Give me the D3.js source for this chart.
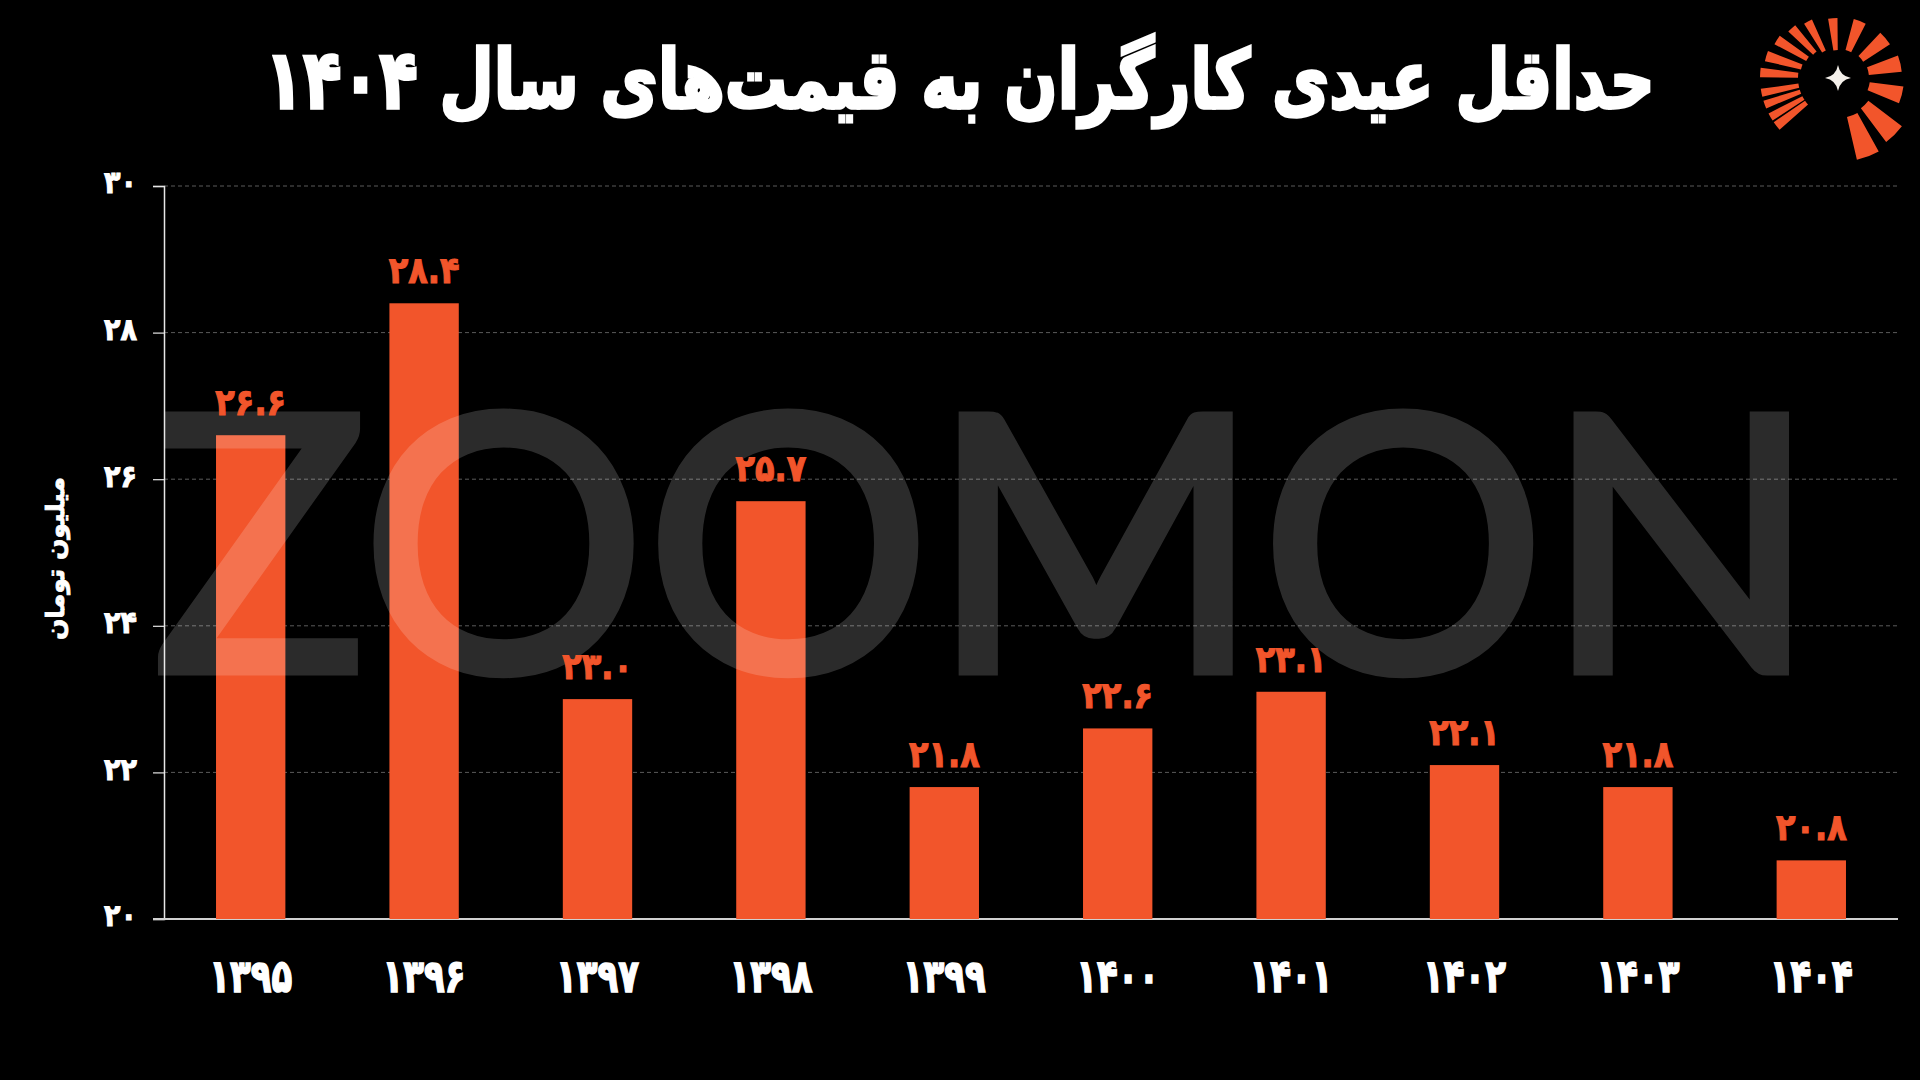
<!DOCTYPE html>
<html>
<head>
<meta charset="utf-8">
<script src="https://cdn.jsdelivr.net/npm/d3@7"></script>
<style>
  html, body { margin: 0; padding: 0; background: #000; }
  svg { display: block; }
  text { font-family: "DejaVu Sans", sans-serif; }
</style>
</head>
<body>
<svg id="chart"></svg>
<script>
var width = 1920;
var height = 1080;

// data
var years = ["1395", "1396", "1397", "1398", "1399", "1400", "1401", "1402", "1403", "1404"];
var values = [26.6, 28.4, 23.0, 25.7, 21.8, 22.6, 23.1, 22.1, 21.8, 20.8];
var yTicks = [20, 22, 24, 26, 28, 30];

var title = "حداقل عیدی کارگران به قیمت‌های سال ۱۴۰۴";
var yTitle = "میلیون تومان";
var watermark = "ZOOMON";

var orange = "#f2552b";

// latin digits -> persian digits
function fa(s) {
  return String(s).replace(/[0-9]/g, function(d) { return "۰۱۲۳۴۵۶۷۸۹"[+d]; });
}

var svg = d3.select("#chart")
  .attr("width", width)
  .attr("height", height)
  .style("background", "#000");

// plot area (note: "top" is reserved on window, so use an object)
var plot = {x0: 164, x1: 1898, y0: 186, y1: 919};

var x = d3.scaleBand()
  .domain(years)
  .range([plot.x0, plot.x1])
  .paddingInner(0.6)
  .paddingOuter(0.3);

var y = d3.scaleLinear()
  .domain([20, 30])
  .range([plot.y1, plot.y0]);

////////////////////////////////////////////////////////////////////////////////
//                                                                 Grid, axes //
////////////////////////////////////////////////////////////////////////////////

svg.append("g")
  .selectAll("line")
  .data(yTicks.filter(function(d) { return d > 20; }))
  .join("line")
  .attr("x1", plot.x0).attr("x2", plot.x1)
  .attr("y1", function(d) { return y(d); })
  .attr("y2", function(d) { return y(d); })
  .attr("stroke", "#5a5a5a")
  .attr("stroke-width", 1)
  .attr("stroke-dasharray", "4,3");

var yAxis = svg.append("g")
  .attr("transform", "translate(" + plot.x0 + ",0)")
  .call(d3.axisLeft(y).tickValues(yTicks).tickSize(11).tickPadding(16).tickFormat(function(d) { return fa(d); }));
yAxis.select(".domain").attr("stroke", "#e6e6e6").attr("stroke-width", 1.5);
yAxis.selectAll(".tick line").attr("stroke", "#e6e6e6").attr("stroke-width", 1.2);
yAxis.selectAll(".tick text")
  .attr("fill", "#fff")
  .attr("stroke", "#fff")
  .attr("stroke-width", 0.9)
  .attr("dy", "0.22em")
  .attr("transform", "scale(1,1.15)")
  .style("font-size", "27px")
  .style("font-weight", "bold")
  .attr("font-family", "DejaVu Sans");

// baseline
svg.append("line")
  .attr("x1", plot.x0 - 11).attr("x2", plot.x1)
  .attr("y1", y(20)).attr("y2", y(20))
  .attr("stroke", "#d0d0d0")
  .attr("stroke-width", 2);

svg.append("text")
  .attr("transform", "translate(64," + ((plot.y0 + plot.y1) / 2 + 6) + ") rotate(-90)")
  .attr("text-anchor", "middle")
  .attr("direction", "rtl")
  .attr("fill", "#fff")
  .attr("stroke", "#fff")
  .attr("stroke-width", 0.8)
  .style("font-size", "25px")
  .style("font-weight", "bold")
  .text(yTitle);

////////////////////////////////////////////////////////////////////////////////
//                                                                       Bars //
////////////////////////////////////////////////////////////////////////////////

svg.append("g")
  .selectAll("rect")
  .data(values)
  .join("rect")
  .attr("x", function(d, i) { return x(years[i]); })
  .attr("y", function(d) { return y(d); })
  .attr("width", x.bandwidth())
  .attr("height", function(d) { return y(20) - y(d); })
  .attr("fill", orange);

// watermark, drawn over the bars with low opacity
svg.append("g")
  .attr("opacity", 0.17)
  .append("text")
  .attr("x", 153)
  .attr("y", 671)
  .attr("textLength", 1664)
  .attr("lengthAdjust", "spacingAndGlyphs")
  .attr("fill", "#fff")
  .attr("stroke", "#fff")
  .attr("stroke-width", 9)
  .style("font-family", "Lato, sans-serif")
  .style("font-weight", 400)
  .style("font-size", "356px")
  .text(watermark);

svg.append("g")
  .selectAll("text")
  .data(values)
  .join("text")
  .attr("transform", function(d, i) {
    return "translate(" + (x(years[i]) + x.bandwidth() / 2) + "," + (y(d) - 20) + ") scale(1,1.15)";
  })
  .attr("text-anchor", "middle")
  .attr("fill", orange)
  .attr("stroke", orange)
  .attr("stroke-width", 1)
  .style("font-size", "32px")
  .style("font-weight", "bold")
  .text(function(d) { return fa(d.toFixed(1)); });

svg.append("g")
  .selectAll("text")
  .data(years)
  .join("text")
  .attr("transform", function(d) {
    return "translate(" + (x(d) + x.bandwidth() / 2) + ",992) scale(1,1.35)";
  })
  .attr("text-anchor", "middle")
  .attr("fill", "#fff")
  .attr("stroke", "#fff")
  .attr("stroke-width", 1.2)
  .style("font-size", "34px")
  .style("font-weight", "bold")
  .text(function(d) { return fa(d); });

////////////////////////////////////////////////////////////////////////////////
//                                                              Title, logo   //
////////////////////////////////////////////////////////////////////////////////

var t = svg.append("text")
  .attr("transform", "translate(960,108) scale(1,1.3)")
  .attr("text-anchor", "middle")
  .attr("direction", "rtl")
  .attr("fill", "#fff")
  .attr("stroke", "#fff")
  .attr("stroke-width", 2.5)
  .style("font-size", "64px")
  .style("font-weight", "bold")
  .text(title);
// fit title to its width in the picture
var tw = t.node().getComputedTextLength();
t.style("font-size", (64 * 1390 / tw) + "px");

// logo: rays around a small star [angle deg, width deg, inner r, outer r]
var rays = [[-95, 9, 28, 60], [-69, 12, 29, 61], [-40, 14, 30, 62], [-13, 15, 31, 64], [15, 15, 32, 66],
            [45, 16, 38, 80], [69, 16, 40, 84],
            [142, 7, 40, 78], [150, 6, 40, 78], [160, 6, 40, 78], [169, 6, 40, 78], [-176, 7, 40, 78],
            [-163, 8, 38, 75], [-148, 8, 36, 72], [-133, 8, 34, 68], [-118, 8, 30, 64]];
var logo = svg.append("g").attr("transform", "translate(1838,78)");
var arc = d3.arc();
logo.selectAll("path.ray")
  .data(rays)
  .join("path")
  .attr("class", "ray")
  .attr("fill", orange)
  .attr("d", function(r) {
    var a = (r[0] + 90) * Math.PI / 180, w = r[1] * Math.PI / 360;
    return arc({innerRadius: r[2], outerRadius: r[3], startAngle: a - w, endAngle: a + w});
  });
logo.append("path")
  .attr("fill", "#f4f0ea")
  .attr("d", "M0,-13 Q2,-2 13,0 Q2,2 0,13 Q-2,2 -13,0 Q-2,-2 0,-13Z");
</script>
</body>
</html>
